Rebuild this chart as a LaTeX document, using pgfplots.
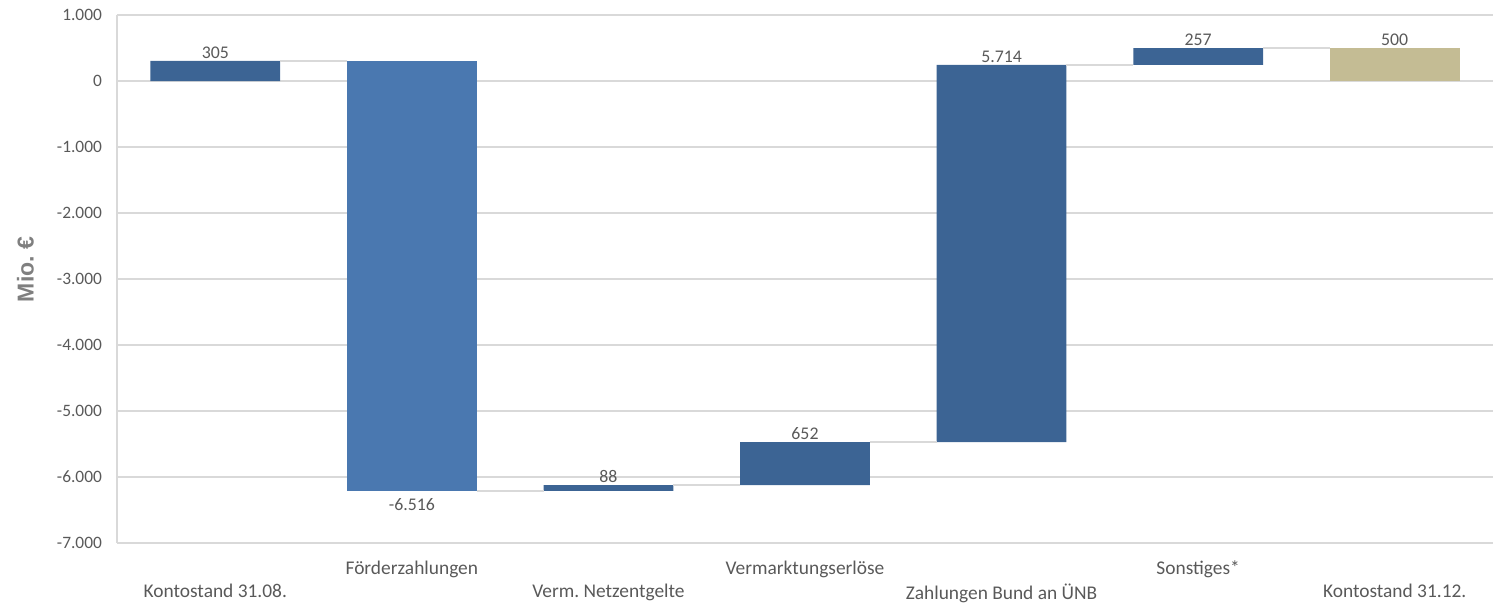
\documentclass[border=0pt]{standalone}
\usepackage{pgfplots}
\pgfplotsset{compat=1.18}
\usepackage{pgfplotstable}
\usepackage{fontspec}
\setmainfont{Carlito}
\newfontfamily\arialfont{Liberation Sans}
\frenchspacing
\definecolor{dblue}{HTML}{3C6494}
\definecolor{lblue}{HTML}{4A78B0}
\definecolor{ktan}{HTML}{C4BC94}
\definecolor{gridc}{HTML}{D9D9D9}
\definecolor{txt}{HTML}{595959}
\definecolor{ylab}{HTML}{7F7F7F}

\pgfplotstableread{
x base dark light tan
0 0 305 0 0
1 -6211 0 6516 0
2 -6211 88 0 0
3 -6123 652 0 0
4 -5471 5714 0 0
5 243 257 0 0
6 0 0 0 500
}\bars

\pgfplotstableread{
x y
0.33 305
0.67 305
nan nan
1.33 -6211
1.67 -6211
nan nan
2.33 -6123
2.67 -6123
nan nan
3.33 -5471
3.67 -5471
nan nan
4.33 243
4.67 243
nan nan
5.33 500
5.67 500
}\conn

\pgfplotstableread{
x y lab
0 305 305
2 -6123 88
3 -5471 652
4 243 5.714
5 500 257
6 500 500
}\labup

\pgfplotstableread{
x y lab
1 -6211 -6.516
}\labdown

\begin{document}
\begin{tikzpicture}
\begin{axis}[
  at={(0,0)}, anchor=south west,
  scale only axis, width=688pt, height=264pt,
  xmin=-0.5, xmax=6.5, ymin=-7000, ymax=1000,
  ybar stacked, stack negative=on previous, bar width=0.66,
  axis x line*=bottom, axis y line*=left,
  axis line style={draw=gridc, line width=0.75pt, -},
  ymajorgrids, grid style={draw=gridc, line width=0.75pt},
  major tick length=0pt,
  ytick={-7000,-6000,...,1000},
  yticklabels={-7.000,-6.000,-5.000,-4.000,-3.000,-2.000,-1.000,0,1.000},
  xtick={1,3,5},
  xticklabels={Förderzahlungen,Vermarktungserlöse,Sonstiges*},
  extra x ticks={0,2,4,6},
  extra x tick labels={Kontostand 31.08.,Verm. Netzentgelte,Zahlungen Bund an ÜNB,Kontostand 31.12.},
  extra x tick style={grid=none, xticklabel style={yshift=-11.5pt}},
  ticklabel style={font=\fontsize{8.7}{10}\selectfont, text=txt},
  yticklabel style={xshift=-4pt},
  xticklabel style={yshift=-5.5pt, font=\fontsize{9.7}{11}\selectfont},
  ylabel={Mio. €},
  every axis y label/.style={at={(axis description cs:-0.0665,0.518)}, rotate=90, anchor=center, font=\arialfont\bfseries\fontsize{11.5}{13}\selectfont, text=ylab},
]
\addplot[draw=none, fill=none] table[x=x,y=base]{\bars};
\addplot[draw=none, fill=dblue] table[x=x,y=dark]{\bars};
\addplot[draw=none, fill=lblue] table[x=x,y=light]{\bars};
\addplot[draw=none, fill=ktan] table[x=x,y=tan]{\bars};
\end{axis}
\begin{axis}[
  at={(0,0)}, anchor=south west,
  scale only axis, width=688pt, height=264pt,
  xmin=-0.5, xmax=6.5, ymin=-7000, ymax=1000,
  hide axis, clip=false,
]
\addplot[gridc, line width=0.75pt, unbounded coords=jump] table[x=x,y=y]{\conn};
\addplot[draw=none, nodes near coords, point meta=explicit symbolic,
  nodes near coords style={anchor=south, yshift=-2.2pt, font=\fontsize{8.9}{10}\selectfont, text=txt}]
  table[x=x,y=y,meta=lab]{\labup};
\addplot[draw=none, nodes near coords, point meta=explicit symbolic,
  nodes near coords style={anchor=north, font=\fontsize{8.9}{10}\selectfont, text=txt}]
  table[x=x,y=y,meta=lab]{\labdown};
\end{axis}
\pgfresetboundingbox
\useasboundingbox (-58.5pt,-30pt) rectangle (689.5pt,271.5pt);
\end{tikzpicture}
\end{document}
